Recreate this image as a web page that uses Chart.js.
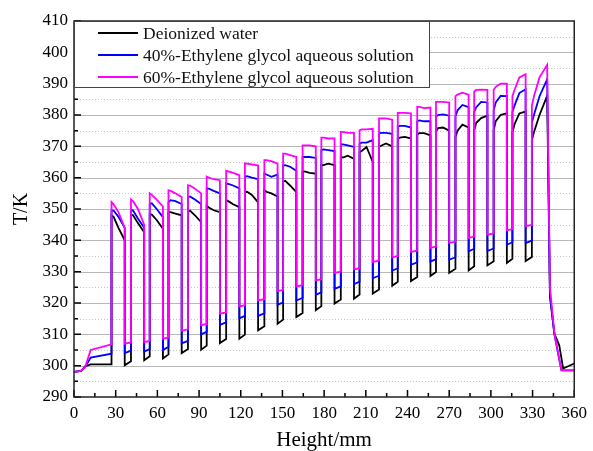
<!DOCTYPE html>
<html>
<head>
<meta charset="utf-8">
<script src="https://cdn.jsdelivr.net/npm/chart.js@4.4.0/dist/chart.umd.min.js"></script>
<style>
  html, body { margin: 0; padding: 0; background: #fff; }
  #wrap { width: 593px; height: 451px; }
</style>
</head>
<body>
<div id="wrap"><canvas id="myChart"></canvas></div>
<script>
// height along the fin array (mm), shared by the three curves
const heightMm = [
  0, 5, 8, 12,
  27, 27, 28.5, 32, 36.5, 36.5,
  41, 41, 42.5, 46, 50.5, 50.5,
  54.5, 54.5, 56, 59.5, 64, 64,
  68, 68, 69.5, 73, 77.5, 77.5,
  82, 82, 83.5, 87, 91.5, 91.5,
  95.5, 95.5, 97, 100.5, 105, 105,
  109.5, 109.5, 111, 114.5, 119, 119,
  123, 123, 124.5, 128, 132.5, 132.5,
  137, 137, 138.5, 142, 146.5, 146.5,
  150.5, 150.5, 152, 155.5, 160, 160,
  164.5, 164.5, 166, 169.5, 174, 174,
  178, 178, 179.5, 183, 187.5, 187.5,
  192, 192, 193.5, 197, 201.5, 201.5,
  205.5, 205.5, 207, 210.5, 215, 215,
  219.5, 219.5, 221, 224.5, 229, 229,
  233, 233, 234.5, 238, 242.5, 242.5,
  247, 247, 248.5, 252, 256.5, 256.5,
  260.5, 260.5, 262, 265.5, 270, 270,
  274.5, 274.5, 276, 279.5, 284, 284,
  288, 288, 289.5, 293, 297.5, 297.5,
  302, 302, 303.5, 307, 311.5, 311.5,
  315.5, 315.5, 317, 320.5, 325, 325,
  329.5, 329.5, 331, 335, 340.5,
  342.5, 345.7, 349.2, 350.8, 352, 360
];

// temperature (K)
const waterT = [
  298, 298.3, 299.8, 300.4,
  300.4, 348, 347.5, 344, 340, 300.1,
  301.4, 348.2, 348, 345.5, 342.6, 301.7,
  303, 348.4, 348.2, 346.5, 343.7, 302.3,
  303.6, 349, 349, 348.5, 348, 304.0,
  305.3, 349, 349.5, 348, 345.8, 305.1,
  306.4, 351, 350.5, 349.6, 349, 307.2,
  308.5, 352.8, 352.5, 351.5, 350.6, 308.6,
  309.9, 355.4, 355.5, 354.5, 352.1, 311.3,
  312.6, 356, 355.5, 355, 354, 313.4,
  314.7, 358.7, 359, 357.5, 355.4, 315.5,
  316.8, 361.8, 362, 361.5, 361.3, 317.7,
  319, 364, 364, 364.5, 364, 319.8,
  321.1, 366.6, 366.4, 367, 366, 321.4,
  322.7, 368.2, 368.5, 369.8, 365, 323.0,
  324.3, 369.8, 370.2, 370.9, 370, 325.5,
  326.8, 372.3, 372.8, 373, 372.5, 327.0,
  328.3, 373.8, 374.2, 374.2, 373.5, 328.6,
  329.9, 374.8, 375.8, 376, 375, 329.6,
  330.9, 373, 375, 376.9, 376, 330.4,
  331.7, 375.1, 377.5, 379, 379.8, 332.0,
  333.3, 375.1, 378, 380, 380.6, 332.8,
  334.1, 374.5, 377, 380.5, 381.1, 333.4,
  334.7, 372, 374.5, 380, 386.1,
  322, 310.2, 306.5, 302.3, 299.1, 300.7
];

const eg40T = [
  298, 298.3, 299.5, 302.6,
  303.8, 349.6, 349.5, 347.5, 344, 304.0,
  304.8, 349.8, 349.5, 347, 344, 304.5,
  305.3, 351.6, 351.8, 350, 347.4, 305.0,
  306, 352.2, 352.8, 352.5, 351.6, 307.1,
  307.9, 353.8, 354, 353, 351.6, 310.0,
  310.8, 356.6, 356.5, 355.8, 355, 313.0,
  313.8, 358.2, 358, 357.5, 356.6, 315.1,
  315.9, 360.3, 360.5, 360, 359.5, 315.9,
  316.7, 361.3, 361, 360.3, 361, 319.4,
  320.2, 363.9, 364, 363.5, 362.2, 320.8,
  321.6, 366.6, 366.6, 366.6, 366.3, 322.6,
  323.4, 368.8, 369, 368.8, 368.5, 324.5,
  325.3, 370.6, 370.6, 370.3, 369.8, 326.0,
  326.8, 370.9, 371.2, 371.2, 372, 327.9,
  328.7, 374.1, 374.3, 374.3, 374, 330.3,
  331.1, 376.3, 376.5, 376.5, 376, 332.2,
  333, 378, 378.3, 378, 378, 333.2,
  334, 379.5, 380, 380.2, 379.8, 333.8,
  334.6, 379.5, 381.5, 383.2, 382.5, 336.5,
  337.3, 381, 382.5, 384.2, 384, 336.6,
  337.4, 381.5, 384, 386.1, 386, 338.6,
  339.4, 381, 383, 387, 388.2, 339.1,
  339.9, 377.5, 380, 386, 391.4,
  323, 310, 302, 298.5, 298.5, 298.5
];

const eg60T = [
  298, 298.3, 299.5, 305,
  306.8, 352.2, 351.5, 349, 344, 307.0,
  307.4, 353, 352.5, 350, 345, 307.5,
  307.9, 355, 354.5, 353, 350.8, 308.6,
  309, 356, 355.8, 355, 353.8, 311.2,
  311.6, 357.6, 357.5, 356.5, 355, 312.9,
  313.3, 360.3, 360, 359.5, 359.2, 316.6,
  317, 362.2, 362, 361.5, 360.8, 318.9,
  319.3, 364.6, 364.5, 364.2, 363.9, 320.8,
  321.2, 365.6, 365.6, 365.3, 364.5, 323.8,
  324.2, 367.7, 367.7, 367.2, 366.6, 325.3,
  325.7, 370.3, 370.3, 370.3, 370, 327.2,
  327.6, 372.8, 372.8, 372.5, 372.5, 329.6,
  330, 374.6, 374.6, 374.3, 374.3, 330.7,
  331.1, 375.1, 375.4, 375.4, 375.6, 333.1,
  333.5, 378.9, 378.9, 378.9, 378.5, 334.6,
  335, 380.7, 380.7, 380.7, 380.5, 336.3,
  336.7, 382.6, 382.6, 382.2, 382.4, 337.6,
  338, 384.2, 384.2, 384.2, 384, 339.2,
  339.6, 386, 386.5, 387.1, 386.5, 340.8,
  341.2, 387.5, 388, 388.1, 388, 341.8,
  342.2, 388, 389, 390, 390, 343.2,
  343.6, 386, 388, 392, 393, 344.5,
  344.9, 383, 386, 392, 396,
  325, 310.5, 302, 298.5, 298.5, 298.5
];

const seriesNames = [
  "Deionized water",
  "40%-Ethylene glycol aqueous solution",
  "60%-Ethylene glycol aqueous solution"
];
const seriesColors = ["#000000", "#0000ff", "#ff00ff"];

const serif = '"Liberation Serif", "Times New Roman", serif';

function toPoints(values) {
  return values.map((t, i) => ({ x: heightMm[i], y: t }));
}

// grid, inward ticks, frame and the boxed legend
const decorations = {
  id: "decorations",
  beforeDatasetsDraw(chart) {
    const { ctx, chartArea: a, scales: { y } } = chart;
    ctx.save();
    ctx.lineWidth = 1;
    for (let v = 295; v < 410; v += 5) {
      const py = Math.round(y.getPixelForValue(v)) + 0.5;
      if (v % 10 === 0) {
        ctx.setLineDash([]);
        ctx.strokeStyle = "#b8b8b8";
      } else {
        ctx.setLineDash([1, 2]);
        ctx.strokeStyle = "#c4c4c4";
      }
      ctx.beginPath();
      ctx.moveTo(a.left, py);
      ctx.lineTo(a.right, py);
      ctx.stroke();
    }
    ctx.restore();
  },
  afterDatasetsDraw(chart) {
    const { ctx, chartArea: a, scales: { x, y } } = chart;
    ctx.save();
    ctx.strokeStyle = "#000";
    ctx.lineWidth = 1.5;
    ctx.beginPath();
    for (let v = 290; v <= 410; v += 5) {
      const py = y.getPixelForValue(v);
      ctx.moveTo(a.left, py);
      ctx.lineTo(a.left + (v % 10 === 0 ? 7 : 4), py);
    }
    for (let v = 0; v <= 360; v += 15) {
      const px = x.getPixelForValue(v);
      ctx.moveTo(px, a.bottom);
      ctx.lineTo(px, a.bottom - (v % 30 === 0 ? 7 : 4));
    }
    ctx.stroke();
    ctx.strokeStyle = "#222";
    ctx.strokeRect(a.left, a.top, a.right - a.left, a.bottom - a.top);

    // legend
    const lx = a.left, ly = a.top, lw = 355, lh = 66;
    ctx.fillStyle = "#fff";
    ctx.fillRect(lx, ly, lw, lh);
    ctx.lineWidth = 1;
    ctx.strokeStyle = "#444";
    ctx.strokeRect(lx + 0.5, ly + 0.5, lw, lh);
    ctx.font = "17.5px " + serif;
    ctx.textBaseline = "middle";
    ctx.fillStyle = "#111";
    seriesNames.forEach((name, i) => {
      const ry = ly + 12 + i * 22;
      ctx.strokeStyle = seriesColors[i];
      ctx.lineWidth = 2;
      ctx.beginPath();
      ctx.moveTo(lx + 24, ry);
      ctx.lineTo(lx + 64, ry);
      ctx.stroke();
      ctx.fillText(name, lx + 69, ry + 1);
    });
    ctx.restore();
  }
};

const ctx = document.getElementById("myChart").getContext("2d");
const myChart = new Chart(ctx, {
  type: "scatter",
  data: {
    datasets: [
      { label: seriesNames[0], data: toPoints(waterT), borderColor: seriesColors[0], order: 3 },
      { label: seriesNames[1], data: toPoints(eg40T), borderColor: seriesColors[1], order: 2 },
      { label: seriesNames[2], data: toPoints(eg60T), borderColor: seriesColors[2], order: 1 }
    ].map((d) => Object.assign(d, {
      showLine: true,
      borderWidth: 1.8,
      pointRadius: 0,
      tension: 0,
      fill: false
    }))
  },
  options: {
    responsive: true,
    maintainAspectRatio: false,
    animation: false,
    events: [],
    layout: { padding: { top: 21, right: 13, left: 0, bottom: 0 } },
    plugins: { legend: { display: false }, tooltip: { enabled: false } },
    scales: {
      x: {
        type: "linear",
        min: 0,
        max: 360,
        ticks: { stepSize: 30, color: "#000", padding: 6, font: { family: serif, size: 17 } },
        grid: { display: false, drawTicks: false },
        border: { display: false },
        title: {
          display: true,
          text: "Height/mm",
          color: "#000",
          font: { family: serif, size: 21, lineHeight: 1 },
          padding: { top: 0, bottom: 0 }
        },
        afterFit(scale) { scale.height = 54; }
      },
      y: {
        type: "linear",
        min: 290,
        max: 410,
        ticks: { stepSize: 10, color: "#000", padding: 6, font: { family: serif, size: 17 } },
        grid: { display: false, drawTicks: false },
        border: { display: false },
        title: {
          display: true,
          text: "T/K",
          color: "#000",
          font: { family: serif, size: 20, lineHeight: 1 },
          padding: { top: 12, bottom: 0 }
        },
        afterFit(scale) { scale.width = 74; }
      }
    }
  },
  plugins: [decorations]
});
</script>
</body>
</html>
